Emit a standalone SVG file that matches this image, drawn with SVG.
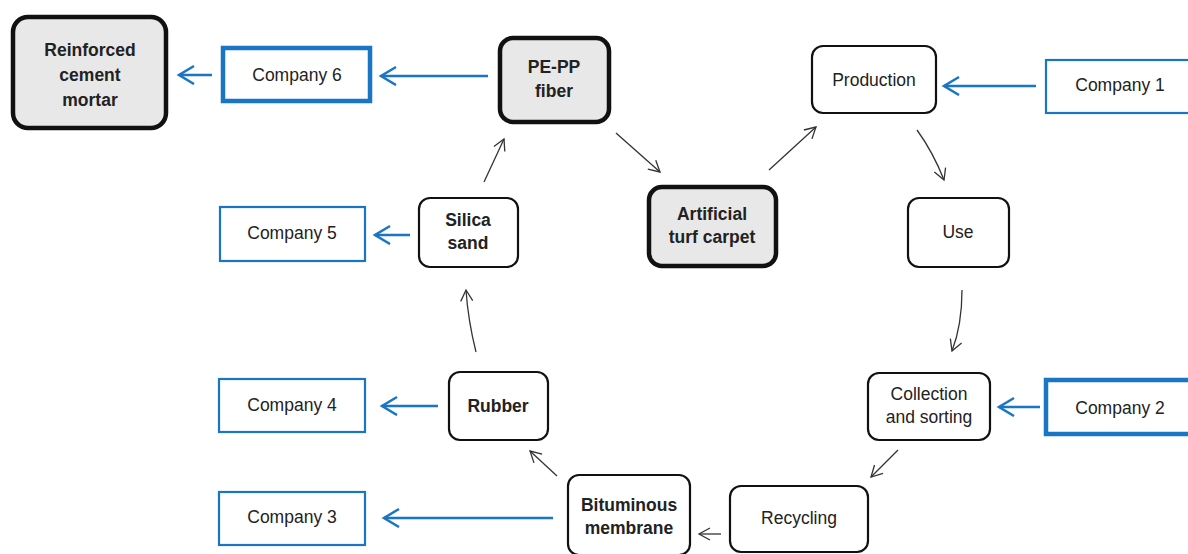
<svg xmlns="http://www.w3.org/2000/svg" width="1188" height="554" viewBox="0 0 1188 554">
<style>
text{font-family:"Liberation Sans",Arial,sans-serif;font-size:17.5px;fill:#222;text-anchor:middle}
.b{font-weight:bold}
.n{fill:#fff;stroke:#111;stroke-width:2.2}
.k{fill:#e8e8e8;stroke:#111;stroke-width:4.5}
.c{fill:#fff;stroke:#1a75c4;stroke-width:2.2}
.ck{fill:#fff;stroke:#1a75c4;stroke-width:4.5}
.bl{fill:none;stroke:#1a75c4;stroke-width:2.5}
.ar{fill:none;stroke:#333;stroke-width:1.3}
</style>
<defs>
<marker id="bh" markerWidth="20" markerHeight="22" refX="16" refY="10" orient="auto" markerUnits="userSpaceOnUse"><path d="M1,1 L16,10 L1,19" fill="none" stroke="#1a75c4" stroke-width="2.5"/></marker>
<marker id="kh" markerWidth="16" markerHeight="16" refX="12" refY="7" orient="auto" markerUnits="userSpaceOnUse"><path d="M1,1 L12,7 L1,13" fill="none" stroke="#333" stroke-width="1.3"/></marker>
</defs>
<g id="connectors">
<line class="bl" x1="212" y1="75" x2="179" y2="75" marker-end="url(#bh)"/>
<line class="bl" x1="488" y1="76" x2="381" y2="76" marker-end="url(#bh)"/>
<line class="bl" x1="1036" y1="86" x2="944" y2="86" marker-end="url(#bh)"/>
<line class="bl" x1="1040" y1="407" x2="999" y2="407" marker-end="url(#bh)"/>
<line class="bl" x1="410" y1="235" x2="375" y2="235" marker-end="url(#bh)"/>
<line class="bl" x1="438" y1="406" x2="382" y2="406" marker-end="url(#bh)"/>
<line class="bl" x1="553" y1="518" x2="384" y2="518" marker-end="url(#bh)"/>
<line class="ar" x1="616" y1="133" x2="660" y2="172" marker-end="url(#kh)"/>
<line class="ar" x1="769" y1="170" x2="816" y2="127" marker-end="url(#kh)"/>
<path class="ar" d="M917,130 Q933,152 944,180" marker-end="url(#kh)"/>
<path class="ar" d="M962,290 Q962,325 952,351" marker-end="url(#kh)"/>
<line class="ar" x1="898" y1="450" x2="871" y2="477" marker-end="url(#kh)"/>
<line class="ar" x1="721" y1="534" x2="699" y2="534" marker-end="url(#kh)"/>
<line class="ar" x1="557" y1="476" x2="530" y2="451" marker-end="url(#kh)"/>
<path class="ar" d="M476,352 Q468,320 466,290" marker-end="url(#kh)"/>
<line class="ar" x1="484" y1="182" x2="504" y2="139" marker-end="url(#kh)"/>
</g>
<g id="reinforced"><rect class="k" x="13" y="17" width="153" height="111" rx="15"/><text class="b" x="90" y="56">Reinforced</text><text class="b" x="90" y="81">cement</text><text class="b" x="90" y="106">mortar</text></g>
<g id="company6"><rect class="ck" x="223" y="48" width="147" height="53"/><text x="297" y="81">Company 6</text></g>
<g id="pepp"><rect class="k" x="500" y="38" width="109" height="84" rx="13"/><text class="b" x="554" y="73">PE-PP</text><text class="b" x="554" y="97">fiber</text></g>
<g id="turf"><rect class="k" x="649" y="187" width="127" height="79" rx="13"/><text class="b" x="712" y="220">Artificial</text><text class="b" x="712" y="243">turf carpet</text></g>
<g id="production"><rect class="n" x="812" y="46" width="124" height="67" rx="11"/><text x="874" y="86">Production</text></g>
<g id="company1"><rect class="c" x="1046" y="60" width="146" height="53"/><text x="1120" y="91">Company 1</text></g>
<g id="use"><rect class="n" x="908" y="198" width="101" height="69" rx="11"/><text x="958" y="238">Use</text></g>
<g id="collection"><rect class="n" x="868" y="373" width="122" height="67" rx="11"/><text x="929" y="400">Collection</text><text x="929" y="423">and sorting</text></g>
<g id="company2"><rect class="ck" x="1046" y="380" width="146" height="54"/><text x="1120" y="414">Company 2</text></g>
<g id="recycling"><rect class="n" x="730" y="486" width="138" height="66" rx="11"/><text x="799" y="524">Recycling</text></g>
<g id="bituminous"><rect class="n" x="568" y="475" width="122" height="80" rx="11"/><text class="b" x="629" y="511">Bituminous</text><text class="b" x="629" y="534">membrane</text></g>
<g id="company3"><rect class="c" x="219" y="492" width="146" height="53"/><text x="292" y="523">Company 3</text></g>
<g id="rubber"><rect class="n" x="449" y="372" width="99" height="68" rx="11"/><text class="b" x="498" y="412">Rubber</text></g>
<g id="company4"><rect class="c" x="219" y="379" width="146" height="53"/><text x="292" y="411">Company 4</text></g>
<g id="silica"><rect class="n" x="419" y="198" width="99" height="69" rx="11"/><text class="b" x="468" y="226">Silica</text><text class="b" x="468" y="249">sand</text></g>
<g id="company5"><rect class="c" x="220" y="207" width="145" height="54"/><text x="292" y="239">Company 5</text></g>
</svg>
